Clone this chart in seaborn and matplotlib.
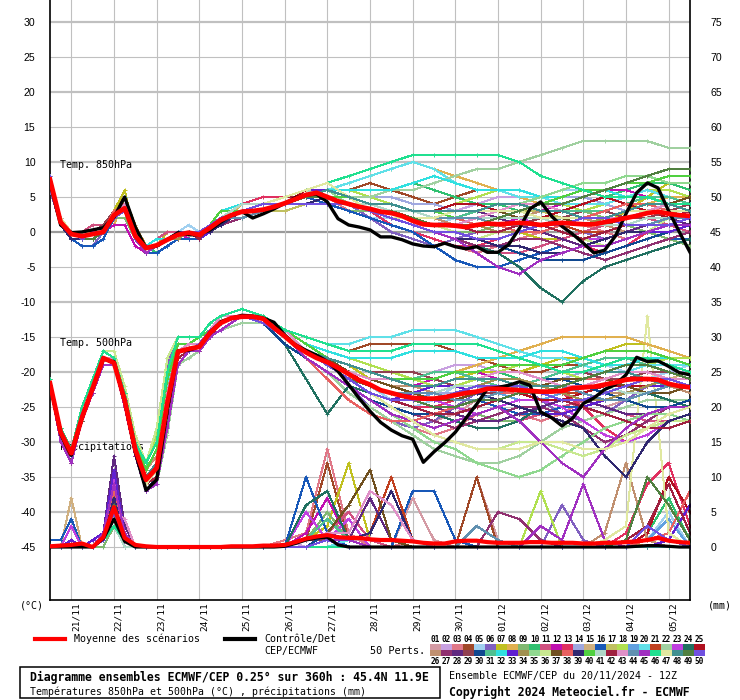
import sys
import numpy as np
import pandas as pd
import matplotlib
matplotlib.use("Agg")
import matplotlib.pyplot as plt
from matplotlib.lines import Line2D
from matplotlib.patches import Rectangle
import seaborn as sns

# ------------------------------------------------------------------ data
H6 = list(range(0, 361, 6))                                  # 20/11 12Z + h
H_MEMBERS = list(range(0, 97, 6)) + list(range(108, 361, 12))
DAY_HOURS = list(range(12, 349, 24))
DAY_LABELS = ["21/11", "22/11", "23/11", "24/11", "25/11", "26/11", "27/11", "28/11",
              "29/11", "30/11", "01/12", "02/12", "03/12", "04/12", "05/12"]
T_TICKS = list(range(-45, 31, 5))
MM_TICKS = list(range(0, 76, 5))
MM_AT_ZERO_C = 45          # right axis: 0 mm sits at -45 degC
T_LIMITS = (-52.57, 33.14)

T850_MEAN = [7.5, 1.4, -0.3, -0.6, -0.3, 0.0, 2.4, 3.4, -0.6, -2.3,
             -1.9, -1.1, -0.4, -0.1, -0.4, 0.6, 1.7, 2.4, 2.9, 3.0,
             3.2, 3.6, 4.1, 4.7, 5.3, 5.6, 5.0, 4.4, 4.0, 3.6,
             3.3, 2.9, 2.7, 2.3, 1.6, 1.1, 1.0, 1.0, 0.9, 0.7,
             1.0, 1.2, 1.1, 1.2, 1.3, 1.2, 1.0, 1.2, 1.3, 1.2,
             1.1, 1.1, 1.4, 1.7, 2.0, 2.3, 2.7, 2.9, 2.6, 2.4,
             2.3]
T850_CTRL = [7.0, 1.0, -0.1, 0.0, 0.3, 0.6, 2.1, 5.0, 0.7, -2.3,
             -2.0, -1.1, -0.1, -0.4, -0.4, 0.3, 1.4, 2.4, 2.9, 2.0,
             2.6, 3.3, 4.1, 4.9, 5.3, 5.4, 4.3, 1.9, 1.0, 0.7,
             0.3, -0.7, -0.7, -1.1, -1.7, -2.0, -2.1, -1.6, -2.1, -2.4,
             -2.1, -2.9, -2.9, -1.8, 0.5, 3.3, 4.3, 2.3, 0.8, -0.3,
             -1.6, -3.0, -2.6, -0.6, 2.6, 5.6, 7.0, 6.3, 3.0, 0.0,
             -2.9]
T500_MEAN = [-21.6, -28.6, -31.6, -26.5, -22.3, -18.0, -18.7, -24.0, -31.1, -35.4,
             -33.7, -24.4, -17.1, -16.7, -16.4, -14.4, -13.0, -12.3, -12.1, -12.1,
             -12.4, -13.7, -14.9, -16.2, -17.2, -18.0, -18.6, -19.4, -20.3, -21.2,
             -21.8, -22.6, -23.0, -23.4, -23.7, -23.8, -23.8, -23.6, -23.3, -23.0,
             -22.8, -22.4, -22.4, -22.5, -22.6, -22.7, -22.8, -22.8, -22.7, -22.3,
             -22.2, -22.1, -21.8, -21.5, -21.1, -21.0, -21.0, -21.1, -21.7, -22.0,
             -22.2]
T500_CTRL = [-21.6, -28.9, -31.9, -26.5, -22.3, -18.2, -18.5, -24.2, -31.5, -36.9,
             -35.4, -25.4, -17.0, -16.9, -16.4, -14.4, -12.8, -12.3, -11.9, -12.0,
             -12.3, -12.9, -14.7, -16.1, -16.9, -17.6, -18.5, -19.9, -21.8, -23.8,
             -25.6, -27.2, -28.3, -29.1, -29.6, -32.9, -31.4, -30.1, -28.6, -26.6,
             -24.6, -22.4, -22.2, -21.9, -21.4, -21.9, -25.7, -26.5, -27.7, -26.6,
             -24.5, -23.7, -22.5, -21.8, -20.4, -17.9, -18.5, -18.4, -19.2, -20.1,
             -20.4]
RR_MEAN = [0.1, 0.2, 0.3, 0.5, 0.0, 1.4, 5.7, 1.3, 0.3, 0.1,
           0.0, 0.0, 0.0, 0.0, 0.0, 0.0, 0.0, 0.1, 0.1, 0.1,
           0.2, 0.2, 0.3, 0.7, 1.2, 1.5, 1.7, 1.4, 1.3, 1.3,
           1.1, 1.0, 1.0, 0.9, 0.8, 0.6, 0.5, 0.5, 0.8, 0.9,
           0.9, 0.7, 0.6, 0.6, 0.6, 0.7, 0.7, 0.6, 0.6, 0.6,
           0.5, 0.5, 0.6, 0.6, 0.7, 0.8, 1.0, 1.3, 0.9, 0.7,
           0.6]
RR_CTRL = [0.0, 0.0, 0.0, 0.0, 0.0, 1.2, 4.0, 0.8, 0.0, 0.0,
           0.0, 0.0, 0.0, 0.0, 0.0, 0.0, 0.0, 0.0, 0.0, 0.0,
           0.0, 0.0, 0.1, 0.5, 1.0, 1.3, 1.4, 0.3, 0.0, 0.0,
           0.0, 0.0, 0.0, 0.0, 0.0, 0.0, 0.0, 0.0, 0.0, 0.0,
           0.0, 0.0, 0.0, 0.0, 0.0, 0.0, 0.0, 0.0, 0.0, 0.0,
           0.0, 0.0, 0.0, 0.0, 0.0, 0.1, 0.2, 0.2, 0.1, 0.0,
           0.0]

MEMBER_IDS = ["%02d" % i for i in range(1, 51)]
MEMBER_COLORS = ["#d49aa4", "#c8a0e0", "#e07888", "#a04828", "#a0d0f0", "#8060c0", "#c0c020",
                 "#e0b050", "#80b870", "#30c070", "#d05080", "#c010b0", "#e03060", "#a0a8e0",
                 "#d0b080", "#1858b8", "#c0c060", "#b0e050", "#60a0e0", "#60e0e8", "#c04020",
                 "#a0d0a0", "#c040e0", "#207060", "#b01020",
                 "#c09070", "#903070", "#602880", "#904050", "#104890", "#50c090", "#30e0e0",
                 "#6020d0", "#a09050", "#90d890", "#c8e890", "#705020", "#e86060", "#302870",
                 "#50d040", "#b0d8c8", "#a02040", "#e090c8", "#6090b0", "#a030c0", "#20e090",
                 "#e0e8a0", "#409090", "#508040", "#7050e0"]

# members: values at H_MEMBERS (17 six-hourly + 22 twelve-hourly)
M850 = [
 [7,1,0,-1,0,0,2,3,-1,-2,-2,-1,0,0,0,1,2, 3,4,5,6,6,5,4,3,2,1,0,-1,-1,0,1,2,3,2,1,2,3,3],
 [8,2,0,0,0,0,3,4,0,-3,-2,-1,0,0,-1,0,2, 3,3,4,5,5,4,4,3,3,2,3,4,5,5,4,3,3,4,5,6,5,4],
 [7,1,-1,-1,-1,0,2,3,0,-2,-2,-1,-1,0,0,1,1, 4,4,5,6,5,3,2,1,0,-1,-2,-3,-2,-1,0,1,1,0,-1,0,1,2],
 [8,1,0,-1,0,1,3,5,0,-3,-2,-1,0,0,0,1,2, 3,4,4,5,6,6,7,6,5,4,5,6,6,5,4,3,2,2,3,4,4,3],
 [7,2,0,0,0,0,2,3,-1,-2,-1,-1,0,1,0,1,2, 3,3,4,5,4,3,2,2,1,1,2,2,3,4,5,6,6,5,4,3,2,1],
 [6,1,-1,-2,-2,0,2,2,0,-3,-3,-2,-1,-1,-1,0,1, 2,3,4,5,5,4,2,0,-1,-2,-1,0,1,2,2,1,0,-1,0,1,2,3],
 [8,1,0,0,0,1,3,6,-1,-2,-2,0,0,0,0,1,3, 3,4,4,5,5,5,4,4,3,3,2,2,1,0,-1,-1,0,1,3,5,7,6],
 [7,1,0,-1,-1,0,1,5,1,-2,-2,-1,0,0,-1,0,1, 4,4,5,5,6,7,8,9,10,9,8,7,6,5,4,3,2,2,3,4,5,5],
 [8,2,0,0,0,0,2,2,-1,-3,-2,-1,-1,0,-1,1,2, 2,3,4,4,4,3,3,2,2,1,0,0,1,2,3,4,3,2,1,0,-1,-2],
 [7,1,-1,-1,0,0,2,3,-1,-2,-3,-2,-1,0,0,1,2, 3,4,5,6,6,5,5,6,7,6,5,4,4,3,3,3,4,5,6,7,7,6],
 [7,2,0,0,1,1,3,4,0,-2,-1,0,0,0,0,1,3, 3,3,3,4,4,4,3,2,1,0,-1,-2,-3,-3,-2,-1,0,1,2,2,1,0],
 [7,1,0,-1,0,0,1,1,-2,-3,-2,-1,0,-1,-1,0,1, 3,4,4,5,5,4,4,4,3,2,2,1,1,2,3,4,5,6,6,5,4,3],
 [8,1,0,0,0,0,2,3,-1,-2,-2,-1,0,0,0,1,2, 4,5,5,6,6,4,3,1,0,-1,-2,-2,-1,0,0,-1,-2,-3,-2,0,1,1],
 [7,1,0,-1,0,0,3,4,0,-2,-2,-1,-1,0,0,1,2, 3,3,4,5,6,6,5,5,4,4,3,3,4,4,5,5,5,4,3,3,3,2],
 [8,2,0,0,0,1,3,4,-1,-3,-2,-1,0,0,-1,0,2, 4,4,5,6,6,6,5,4,3,2,1,1,0,0,1,2,2,3,4,4,3,3],
 [7,1,-1,-2,-2,-1,2,3,-1,-3,-3,-2,-1,-1,-1,0,1, 3,4,4,5,4,3,2,1,0,-2,-4,-5,-5,-4,-3,-2,-3,-4,-3,-2,-1,-1],
 [7,1,0,-1,0,0,2,3,0,-2,-2,-1,0,0,0,1,2, 2,3,3,4,5,4,4,3,3,2,2,2,2,3,3,2,2,1,1,2,3,4],
 [8,1,0,0,0,0,3,4,-1,-2,-2,-1,0,0,0,1,3, 3,4,5,5,6,6,5,4,3,3,4,5,6,6,5,4,3,4,5,6,6,5],
 [7,2,0,-1,0,0,2,3,-1,-2,-2,-1,0,0,0,1,2, 3,3,4,4,5,4,3,3,2,1,1,0,0,1,2,2,1,1,2,3,4,4],
 [7,1,0,0,0,0,2,5,0,-2,-2,-1,0,0,0,1,2, 4,4,5,6,6,7,8,9,10,9,7,6,6,5,5,4,4,4,5,6,5,4],
 [8,1,0,-1,0,0,2,3,-1,-3,-2,-1,-1,0,0,1,2, 3,3,4,4,4,4,3,2,2,1,1,1,2,3,2,1,0,0,1,2,3,3],
 [7,1,0,-1,-1,0,2,3,0,-2,-2,-1,0,0,0,0,1, 3,4,4,5,5,5,5,6,6,7,8,9,9,10,11,12,13,13,13,13,12,12],
 [8,2,0,0,0,0,2,4,-1,-2,-2,-1,0,0,0,1,2, 4,4,5,6,6,4,4,3,2,2,2,3,3,2,1,0,-1,-1,0,1,2,2],
 [7,1,0,-1,0,0,2,3,-1,-3,-2,-1,0,0,-1,0,2, 3,4,4,5,5,4,3,2,1,0,-1,-2,-3,-5,-8,-10,-7,-5,-4,-3,-2,-1],
 [7,1,0,0,0,0,3,4,0,-2,-2,-1,0,0,0,1,2, 3,4,4,6,6,5,4,3,3,3,4,4,3,2,2,3,4,5,4,3,2,2],
 [8,1,0,-1,0,0,2,3,-1,-2,-2,-1,0,0,0,1,2, 3,3,4,5,5,4,3,2,2,2,1,1,2,2,3,3,2,1,0,1,2,3],
 [7,1,-1,-1,0,0,2,3,-1,-2,-2,-1,0,0,0,0,1, 2,3,4,4,4,4,3,2,1,0,-1,-2,-2,-1,-1,-2,-3,-4,-3,-2,-1,0],
 [7,2,0,0,0,0,2,3,0,-2,-2,-1,0,0,0,1,2, 3,4,5,5,5,4,3,3,2,2,3,3,2,1,0,-1,-2,-1,0,1,2,1],
 [8,1,0,-1,0,1,3,4,-1,-3,-2,-1,0,0,0,1,2, 3,4,4,5,6,5,4,4,3,3,2,1,1,1,2,2,3,3,2,2,3,4],
 [7,1,-1,-1,-1,0,2,3,-1,-2,-2,-1,0,0,0,1,2, 3,4,4,5,5,4,3,3,2,1,0,-1,-2,-3,-4,-4,-4,-3,-2,-1,0,1],
 [7,1,0,-1,0,0,2,4,0,-2,-2,-1,0,0,0,1,2, 3,4,4,5,5,5,4,3,3,2,2,3,4,4,3,3,3,3,4,5,5,4],
 [8,2,0,0,0,0,2,4,0,-2,-1,-1,0,0,0,1,3, 4,4,5,5,6,6,6,6,7,8,7,6,6,6,5,5,6,6,5,5,4,4],
 [7,1,0,-1,0,0,2,3,-1,-2,-2,-1,0,0,-1,0,1, 3,4,5,6,6,4,3,2,1,0,-1,-1,0,1,1,0,-1,-2,-1,0,0,1],
 [7,1,0,-1,0,0,2,3,-1,-2,-2,-1,-1,0,0,1,2, 3,3,4,5,5,4,3,2,2,1,1,1,0,0,1,1,1,2,3,3,3,2],
 [8,1,0,0,0,0,3,3,-1,-2,-2,-1,0,0,0,1,2, 2,3,4,5,6,4,3,3,3,2,2,2,3,4,5,6,7,7,8,8,7,7],
 [7,1,0,-1,0,0,2,4,0,-3,-2,-1,0,0,0,1,2, 3,4,5,5,5,5,4,3,2,1,0,-1,0,1,1,0,-1,-2,-1,0,2,3],
 [7,2,0,0,0,0,2,3,-1,-2,-2,-1,0,0,0,1,2, 3,4,4,5,5,4,4,3,3,3,3,3,3,2,2,2,1,1,2,3,4,5],
 [8,1,0,-1,0,0,3,4,-1,-2,-2,-1,0,0,0,1,2, 3,4,4,5,5,4,3,3,2,2,2,1,1,0,0,1,2,3,4,4,3,3],
 [7,1,-1,-1,0,0,2,3,-1,-3,-2,-1,0,0,0,0,1, 3,3,4,4,5,4,3,2,1,0,-1,-1,-2,-2,-3,-3,-2,-1,0,0,1,1],
 [7,1,0,0,0,0,2,3,0,-2,-2,-1,0,0,0,1,3, 3,4,4,5,5,5,4,3,3,3,2,2,2,3,4,5,6,6,7,7,8,8],
 [8,1,0,-1,0,0,2,3,-1,-2,-2,-1,0,0,0,1,2, 4,4,5,6,5,4,4,3,3,2,2,2,2,2,2,1,1,1,1,2,2,2],
 [7,1,0,-1,0,0,2,3,-1,-2,-2,-1,0,0,-1,1,2, 3,4,5,5,5,4,3,3,2,1,1,0,0,1,1,0,-1,0,1,1,2,3],
 [7,2,0,0,0,0,2,4,0,-2,-2,-1,0,0,0,1,2, 3,4,4,5,5,4,3,2,1,1,1,2,3,4,4,3,2,2,2,3,4,4],
 [8,1,0,-1,0,0,2,3,-1,-2,-2,-1,0,0,0,1,2, 2,3,4,4,4,4,3,2,2,2,2,2,1,1,1,2,2,2,1,1,2,2],
 [7,1,0,-1,0,0,2,3,-1,-3,-2,-1,0,0,0,1,2, 3,4,4,5,5,4,3,2,1,0,-1,-3,-5,-6,-4,-3,-2,-2,-1,0,1,1],
 [7,1,0,-1,0,0,2,3,0,-2,-2,-1,0,0,0,1,2, 3,4,5,6,7,8,9,10,11,11,11,11,11,10,8,7,6,5,5,5,4,4],
 [8,2,0,0,0,0,2,3,-1,-2,-2,-1,0,0,0,1,2, 3,4,5,6,7,5,3,2,2,2,3,3,3,3,2,2,2,2,3,3,3,3],
 [7,1,0,-1,0,0,2,3,-1,-2,-2,-1,0,0,0,1,2, 3,3,4,5,6,5,4,4,3,3,3,3,4,4,3,3,2,2,3,4,4,3],
 [7,1,0,-1,-1,0,2,3,-1,-2,-2,-1,0,0,0,1,2, 3,4,4,5,5,4,3,3,2,1,1,1,2,3,4,4,5,6,7,8,9,9],
 [8,1,0,-1,0,0,2,3,-1,-2,-2,-1,0,0,0,1,2, 3,4,4,4,4,4,3,2,1,0,0,-1,-1,0,1,1,2,2,1,1,1,2],
]

M500 = [
 [-22,-29,-32,-26,-22,-18,-19,-24,-31,-35,-34,-24,-17,-17,-16,-14,-13, -12,-12,-15,-17,-19,-21,-23,-25,-26,-27,-26,-24,-23,-22,-22,-23,-24,-25,-24,-22,-21,-21],
 [-21,-28,-31,-26,-22,-18,-18,-23,-30,-34,-31,-21,-16,-16,-16,-14,-13, -12,-13,-14,-16,-18,-19,-20,-21,-21,-20,-19,-19,-20,-21,-22,-22,-21,-20,-19,-19,-20,-21],
 [-22,-29,-33,-27,-23,-19,-19,-25,-32,-36,-35,-27,-18,-17,-17,-15,-13, -12,-13,-15,-18,-20,-22,-24,-26,-28,-29,-28,-26,-25,-26,-27,-26,-24,-23,-22,-23,-24,-25],
 [-21,-29,-32,-26,-22,-17,-18,-24,-31,-35,-33,-24,-17,-16,-16,-14,-12, -12,-12,-14,-15,-16,-17,-16,-16,-16,-16,-17,-18,-19,-20,-20,-19,-19,-18,-18,-18,-19,-20],
 [-22,-30,-33,-27,-22,-18,-19,-24,-32,-37,-36,-28,-19,-17,-17,-15,-14, -12,-13,-15,-17,-19,-20,-22,-24,-25,-24,-22,-21,-20,-19,-19,-18,-18,-19,-20,-21,-20,-19],
 [-21,-28,-31,-25,-21,-17,-18,-23,-30,-33,-29,-19,-15,-15,-15,-13,-12, -12,-13,-16,-18,-20,-22,-25,-27,-28,-27,-25,-23,-22,-22,-24,-26,-27,-26,-24,-22,-21,-20],
 [-22,-29,-32,-26,-22,-18,-19,-24,-31,-36,-34,-25,-17,-17,-16,-14,-13, -12,-12,-14,-17,-18,-19,-21,-22,-23,-22,-21,-20,-20,-20,-19,-18,-18,-17,-16,-16,-17,-18],
 [-21,-29,-32,-26,-22,-18,-18,-24,-31,-35,-33,-23,-17,-16,-16,-14,-13, -12,-12,-14,-16,-17,-18,-19,-20,-21,-21,-20,-19,-18,-17,-16,-15,-15,-15,-15,-16,-17,-18],
 [-22,-29,-32,-27,-22,-18,-19,-25,-32,-36,-34,-26,-18,-17,-17,-15,-13, -12,-13,-15,-17,-19,-21,-22,-23,-23,-24,-25,-26,-27,-27,-26,-25,-24,-24,-23,-22,-22,-23],
 [-22,-28,-31,-26,-22,-18,-19,-24,-31,-35,-33,-24,-17,-17,-16,-14,-13, -12,-13,-15,-17,-18,-19,-20,-21,-21,-22,-22,-21,-20,-21,-22,-23,-23,-22,-21,-20,-20,-21],
 [-22,-29,-32,-26,-22,-18,-19,-24,-31,-35,-34,-25,-17,-17,-16,-14,-13, -12,-13,-15,-18,-20,-22,-24,-25,-26,-26,-27,-28,-28,-27,-26,-25,-24,-25,-26,-27,-27,-26],
 [-21,-29,-32,-26,-22,-18,-18,-24,-31,-34,-32,-22,-16,-16,-16,-14,-12, -12,-12,-15,-17,-18,-20,-21,-22,-22,-21,-20,-20,-21,-22,-23,-24,-24,-23,-22,-21,-21,-22],
 [-22,-30,-33,-27,-23,-19,-19,-25,-32,-36,-35,-27,-18,-17,-17,-15,-13, -12,-13,-16,-18,-20,-22,-23,-24,-25,-25,-24,-23,-23,-22,-22,-23,-25,-28,-30,-28,-26,-25],
 [-22,-29,-32,-26,-22,-18,-19,-24,-31,-35,-33,-24,-17,-17,-16,-14,-13, -12,-13,-15,-17,-19,-20,-21,-22,-22,-23,-23,-22,-22,-22,-21,-21,-20,-20,-19,-19,-20,-20],
 [-21,-28,-31,-26,-22,-17,-18,-23,-30,-34,-31,-20,-16,-16,-15,-14,-12, -11,-12,-14,-16,-18,-19,-20,-21,-22,-22,-21,-21,-22,-22,-21,-20,-20,-21,-22,-22,-21,-20],
 [-22,-29,-32,-26,-22,-18,-19,-24,-31,-36,-35,-26,-18,-17,-17,-15,-14, -13,-13,-15,-18,-20,-22,-24,-26,-27,-26,-25,-24,-25,-26,-26,-25,-25,-24,-24,-25,-25,-24],
 [-22,-29,-32,-26,-22,-18,-19,-24,-31,-35,-34,-24,-17,-17,-16,-14,-13, -12,-13,-15,-17,-19,-21,-22,-23,-24,-24,-23,-22,-22,-23,-23,-22,-21,-21,-22,-23,-24,-24],
 [-21,-28,-31,-25,-21,-17,-18,-23,-30,-33,-29,-18,-15,-15,-15,-13,-12, -12,-12,-14,-16,-17,-18,-19,-20,-21,-22,-22,-21,-20,-19,-19,-20,-21,-21,-20,-19,-18,-18],
 [-22,-29,-32,-26,-22,-18,-19,-24,-31,-35,-34,-25,-17,-17,-16,-14,-13, -12,-13,-15,-17,-19,-21,-23,-24,-24,-23,-22,-22,-23,-24,-24,-23,-22,-22,-21,-21,-21,-22],
 [-21,-29,-32,-26,-22,-17,-18,-23,-30,-34,-32,-22,-16,-16,-15,-14,-12, -11,-12,-14,-15,-16,-16,-15,-15,-14,-14,-14,-15,-16,-17,-18,-18,-19,-20,-20,-19,-19,-19],
 [-22,-29,-32,-27,-22,-18,-19,-24,-32,-36,-34,-25,-17,-17,-16,-14,-13, -12,-13,-15,-17,-19,-21,-23,-25,-26,-26,-25,-24,-23,-22,-22,-23,-23,-22,-21,-20,-20,-21],
 [-22,-30,-33,-27,-23,-19,-19,-25,-32,-37,-36,-29,-19,-18,-17,-15,-14, -13,-13,-15,-18,-20,-23,-25,-27,-29,-31,-32,-33,-33,-32,-30,-28,-27,-26,-25,-24,-24,-24],
 [-22,-29,-32,-26,-22,-18,-19,-24,-31,-35,-34,-24,-17,-17,-16,-14,-13, -12,-13,-15,-17,-19,-21,-22,-23,-24,-24,-25,-26,-25,-24,-24,-25,-27,-29,-30,-29,-27,-26],
 [-22,-29,-33,-27,-23,-19,-19,-25,-32,-36,-35,-27,-18,-17,-17,-15,-13, -12,-13,-16,-21,-26,-22,-23,-24,-25,-26,-27,-28,-28,-27,-25,-24,-23,-22,-22,-23,-24,-25],
 [-22,-29,-32,-26,-22,-18,-19,-24,-31,-35,-33,-24,-17,-17,-16,-14,-13, -12,-13,-15,-17,-19,-20,-22,-23,-23,-22,-21,-21,-22,-23,-24,-24,-23,-22,-22,-22,-21,-21],
 [-21,-28,-31,-26,-22,-18,-18,-23,-30,-34,-32,-23,-16,-16,-16,-14,-13, -12,-12,-14,-17,-19,-20,-21,-22,-22,-23,-24,-24,-23,-22,-21,-21,-22,-23,-23,-22,-22,-23],
 [-22,-29,-32,-26,-22,-18,-19,-24,-31,-36,-34,-25,-17,-17,-16,-14,-13, -12,-13,-15,-18,-20,-22,-24,-25,-26,-27,-28,-27,-26,-25,-25,-26,-28,-30,-29,-27,-25,-24],
 [-22,-29,-32,-27,-22,-18,-19,-24,-31,-35,-34,-25,-17,-17,-16,-14,-13, -12,-13,-15,-17,-19,-21,-23,-24,-24,-25,-26,-27,-27,-26,-25,-24,-24,-25,-26,-26,-25,-24],
 [-21,-29,-32,-26,-22,-18,-18,-24,-31,-35,-33,-23,-17,-16,-16,-14,-12, -12,-12,-15,-17,-18,-19,-20,-20,-20,-21,-22,-23,-23,-22,-21,-20,-20,-21,-21,-20,-20,-21],
 [-22,-30,-33,-27,-23,-19,-19,-25,-32,-37,-35,-26,-18,-17,-17,-15,-13, -12,-13,-16,-18,-20,-22,-24,-25,-26,-26,-25,-24,-23,-22,-21,-21,-22,-23,-24,-25,-25,-24],
 [-22,-29,-32,-26,-22,-18,-19,-24,-31,-35,-34,-24,-17,-17,-16,-14,-13, -12,-12,-14,-16,-18,-19,-20,-21,-21,-20,-20,-21,-22,-22,-21,-20,-19,-18,-18,-19,-20,-21],
 [-21,-28,-31,-25,-21,-17,-18,-23,-30,-33,-30,-20,-15,-15,-15,-13,-12, -12,-12,-14,-16,-17,-18,-18,-18,-17,-17,-17,-18,-18,-18,-17,-17,-18,-19,-19,-18,-18,-19],
 [-22,-29,-32,-26,-22,-18,-19,-24,-31,-35,-34,-25,-17,-17,-16,-14,-13, -12,-13,-15,-17,-19,-21,-23,-24,-23,-22,-22,-23,-24,-25,-26,-26,-25,-24,-23,-22,-22,-22],
 [-22,-29,-32,-26,-22,-18,-19,-24,-31,-35,-33,-24,-17,-17,-16,-14,-13, -12,-13,-15,-17,-19,-20,-21,-22,-23,-23,-22,-22,-21,-21,-22,-23,-24,-24,-23,-22,-21,-21],
 [-22,-30,-33,-27,-23,-19,-19,-25,-32,-36,-35,-27,-18,-17,-17,-15,-13, -12,-13,-15,-18,-20,-22,-24,-26,-28,-30,-31,-33,-34,-35,-34,-32,-30,-28,-27,-26,-26,-27],
 [-21,-28,-31,-25,-21,-17,-17,-22,-29,-33,-28,-18,-15,-15,-15,-13,-12, -12,-13,-15,-17,-19,-21,-23,-25,-27,-29,-30,-31,-31,-30,-30,-31,-32,-31,-29,-28,-27,-27],
 [-22,-29,-32,-26,-22,-18,-19,-24,-31,-35,-34,-24,-17,-17,-16,-14,-13, -12,-13,-15,-17,-18,-20,-21,-22,-23,-24,-24,-23,-22,-22,-22,-21,-21,-21,-22,-23,-23,-22],
 [-22,-29,-32,-26,-22,-18,-19,-25,-32,-36,-34,-26,-18,-17,-16,-14,-13, -12,-13,-15,-18,-21,-24,-26,-27,-27,-26,-25,-24,-23,-23,-23,-22,-21,-21,-20,-20,-21,-22],
 [-22,-29,-32,-26,-22,-18,-19,-24,-31,-35,-34,-25,-17,-17,-16,-14,-13, -12,-13,-15,-17,-19,-21,-22,-23,-24,-24,-23,-23,-24,-25,-26,-27,-28,-32,-35,-30,-27,-26],
 [-21,-28,-31,-26,-22,-18,-18,-23,-30,-34,-31,-21,-16,-16,-15,-14,-12, -12,-12,-14,-16,-18,-19,-20,-21,-21,-21,-20,-20,-19,-19,-19,-19,-18,-17,-17,-17,-18,-19],
 [-22,-29,-32,-26,-22,-18,-19,-24,-31,-35,-34,-24,-17,-17,-16,-14,-13, -12,-13,-15,-17,-19,-21,-22,-23,-23,-23,-22,-22,-22,-23,-23,-22,-22,-22,-23,-23,-22,-22],
 [-22,-29,-33,-27,-22,-18,-19,-25,-32,-36,-35,-26,-18,-17,-17,-15,-13, -12,-13,-15,-17,-19,-21,-23,-24,-25,-26,-26,-25,-24,-23,-23,-24,-25,-26,-27,-28,-28,-27],
 [-21,-29,-32,-26,-22,-18,-18,-24,-31,-35,-33,-23,-17,-16,-16,-14,-12, -12,-12,-14,-17,-19,-20,-21,-21,-22,-22,-21,-21,-20,-20,-21,-22,-22,-21,-20,-20,-21,-21],
 [-22,-29,-32,-26,-22,-18,-19,-24,-31,-35,-34,-25,-17,-17,-16,-14,-13, -12,-13,-15,-17,-19,-21,-22,-23,-23,-23,-24,-24,-23,-22,-22,-22,-23,-24,-24,-23,-22,-22],
 [-22,-30,-33,-27,-23,-19,-19,-25,-32,-37,-36,-28,-19,-17,-17,-15,-14, -12,-13,-15,-18,-20,-22,-24,-26,-27,-28,-27,-26,-25,-27,-30,-33,-35,-31,-28,-26,-25,-25],
 [-21,-28,-31,-25,-21,-17,-18,-23,-30,-33,-30,-20,-15,-15,-15,-13,-12, -11,-12,-14,-15,-16,-17,-17,-17,-16,-16,-16,-16,-17,-18,-19,-20,-20,-19,-18,-18,-19,-20],
 [-22,-29,-32,-26,-22,-18,-19,-24,-31,-36,-34,-25,-17,-17,-16,-14,-13, -12,-13,-15,-17,-19,-21,-23,-25,-27,-29,-30,-31,-31,-31,-30,-30,-31,-31,-30,-28,-26,-25],
 [-22,-29,-32,-26,-22,-18,-19,-24,-31,-35,-33,-24,-17,-17,-16,-14,-13, -12,-13,-15,-17,-18,-19,-20,-21,-22,-22,-21,-21,-21,-22,-22,-22,-21,-20,-20,-21,-22,-22],
 [-22,-29,-32,-27,-22,-18,-19,-24,-31,-35,-34,-25,-17,-17,-16,-14,-13, -12,-13,-15,-17,-19,-21,-22,-23,-24,-25,-25,-24,-24,-23,-23,-22,-21,-20,-19,-19,-20,-21],
 [-22,-29,-32,-26,-22,-18,-19,-24,-31,-35,-34,-24,-17,-17,-16,-14,-13, -12,-13,-15,-17,-19,-21,-23,-24,-24,-24,-23,-22,-22,-22,-23,-24,-24,-23,-22,-21,-21,-22],
]

MRR = [
 [0,0,0,0,0,1,6,1,0,0,0,0,0,0,0,0,0, 0,0,0,1,2,1,1,0,7,1,0,10,1,0,0,0,0,0,0,0,1,0],
 [0,0,1,0,0,1,5,1,0,0,0,0,0,0,0,0,0, 0,0,1,0,0,0,0,0,0,0,0,0,0,0,0,0,0,1,0,0,0,0],
 [0,0,0,0,0,2,4,0,0,0,0,0,0,0,0,0,0, 0,0,1,2,14,2,0,0,1,0,0,0,0,0,0,0,0,0,0,0,0,0],
 [0,0,1,0,0,1,7,2,0,0,0,0,0,0,0,0,0, 0,0,0,1,12,1,0,0,0,0,0,10,0,0,0,0,0,0,0,0,0,0],
 [0,0,0,0,0,1,5,1,0,0,0,0,0,0,0,0,0, 0,0,0,0,1,1,0,0,0,0,0,0,0,0,0,0,0,0,0,1,5,0],
 [0,0,0,0,0,1,6,0,0,0,0,0,0,0,0,0,0, 0,0,0,0,2,0,0,0,0,0,0,0,0,0,0,6,1,0,0,0,0,0],
 [0,0,1,0,1,2,4,1,0,0,0,0,0,0,0,0,0, 0,0,0,1,3,12,1,0,0,0,0,0,0,0,0,0,0,0,0,0,0,0],
 [0,0,0,0,0,1,5,1,0,0,0,0,0,0,0,0,0, 0,0,0,0,1,0,0,0,0,0,0,0,0,0,0,0,0,0,1,0,0,0],
 [0,0,0,0,0,0,3,1,0,0,0,0,0,0,0,0,0, 0,0,0,1,5,1,0,0,0,0,0,0,0,0,0,0,0,0,0,0,0,0],
 [0,0,0,0,0,1,6,1,0,0,0,0,0,0,0,0,0, 0,0,0,0,1,0,0,0,0,0,0,0,0,0,0,0,0,0,0,2,7,1],
 [0,0,0,0,0,1,5,1,0,0,0,0,0,0,0,0,0, 0,0,0,1,2,5,1,0,0,0,0,0,0,0,0,0,0,0,0,0,0,0],
 [0,0,1,0,0,2,7,2,0,0,0,0,0,0,0,0,0, 0,0,0,2,7,1,0,0,0,0,0,0,0,0,0,0,0,0,0,0,0,0],
 [0,0,0,0,0,1,4,1,0,0,0,0,0,0,0,0,0, 0,0,0,0,1,0,0,0,0,0,0,0,0,0,0,0,0,0,2,9,12,3],
 [0,0,0,0,0,1,6,1,0,0,0,0,0,0,0,0,0, 0,0,0,1,1,0,0,0,0,0,0,0,0,0,0,0,0,0,0,0,0,0],
 [0,0,7,0,0,2,9,2,0,0,0,0,0,0,0,0,0, 0,0,0,1,2,1,0,0,0,0,0,0,0,0,0,0,0,0,0,0,0,0],
 [1,1,4,0,0,1,5,1,0,0,0,0,0,0,0,0,0, 0,0,0,10,2,0,0,0,8,8,1,0,0,0,0,0,0,0,0,0,0,0],
 [0,0,0,0,0,1,4,1,0,0,0,0,0,0,0,0,0, 0,0,0,0,1,1,0,0,0,0,0,0,0,0,0,0,0,0,0,0,0,0],
 [0,0,0,0,0,1,3,1,0,0,0,0,0,0,0,0,0, 0,0,0,0,1,0,0,0,0,0,0,0,0,0,8,0,0,0,0,0,0,0],
 [0,0,0,0,0,1,6,1,0,0,0,0,0,0,0,0,0, 0,0,0,0,1,0,0,0,0,0,0,0,0,0,0,0,0,0,0,1,4,0],
 [0,0,0,0,0,1,5,1,0,0,0,0,0,0,0,0,0, 0,0,0,0,0,1,0,0,0,0,0,0,0,0,0,0,0,0,0,0,0,0],
 [0,0,1,0,0,2,8,1,0,0,0,0,0,0,0,0,0, 0,0,0,1,2,1,2,10,1,0,0,0,0,0,0,0,0,0,0,0,0,0],
 [0,0,0,0,0,1,4,1,0,0,0,0,0,0,0,0,0, 0,0,0,0,1,0,0,0,0,0,0,0,0,0,0,0,0,0,0,0,0,0],
 [0,0,3,0,0,2,10,2,0,0,0,0,0,0,0,0,0, 0,0,0,5,1,4,0,0,0,0,0,0,0,0,0,0,0,0,0,0,0,0],
 [0,0,0,0,0,1,3,1,0,0,0,0,0,0,0,0,0, 0,0,0,6,8,1,0,0,0,0,0,0,0,0,0,0,0,0,0,0,0,0],
 [0,0,0,0,0,1,6,1,0,0,0,0,0,0,0,0,0, 0,0,0,0,1,0,0,0,0,0,0,0,0,0,0,0,0,0,0,2,10,5],
 [0,0,1,0,0,1,5,1,0,0,0,0,0,0,0,0,0, 0,0,0,0,1,0,0,0,0,0,0,0,0,0,0,0,0,2,12,1,0,0],
 [0,0,0,0,0,2,9,2,0,0,0,0,0,0,0,0,0, 0,0,0,0,1,1,0,0,0,0,0,0,5,4,1,0,0,0,0,0,0,0],
 [0,0,0,0,1,2,13,3,0,0,0,0,0,0,0,0,0, 0,0,0,0,2,1,7,1,0,0,0,0,0,0,0,0,0,0,0,0,0,0],
 [0,0,0,0,0,1,7,1,0,0,0,0,0,0,0,0,0, 0,0,0,1,1,0,0,0,0,0,0,0,0,0,0,0,0,0,0,0,0,0],
 [0,0,0,0,0,1,4,1,0,0,0,0,0,0,0,0,0, 0,0,0,0,2,1,0,0,0,0,0,0,0,0,0,0,0,0,0,0,0,0],
 [0,0,0,0,0,1,5,1,0,0,0,0,0,0,0,0,0, 0,0,0,1,4,1,0,0,0,0,0,0,0,0,0,0,0,0,0,0,0,0],
 [0,0,0,0,0,1,3,1,0,0,0,0,0,0,0,0,0, 0,0,0,0,1,0,0,0,0,0,0,0,0,0,0,0,0,0,0,0,0,0],
 [0,0,1,0,1,2,11,2,0,0,0,0,0,0,0,0,0, 0,0,0,1,2,1,0,0,0,0,0,0,0,0,0,0,0,0,0,0,1,6],
 [0,0,0,0,0,1,4,1,0,0,0,0,0,0,0,0,0, 0,0,0,0,1,1,0,0,0,0,0,0,0,0,0,0,0,0,0,0,0,0],
 [0,0,0,0,0,1,5,1,0,0,0,0,0,0,0,0,0, 0,0,0,0,1,0,0,0,0,0,0,0,0,0,0,0,0,0,0,0,0,0],
 [0,0,0,0,0,1,3,1,0,0,0,0,0,0,0,0,0, 0,0,0,0,0,0,0,0,0,0,0,0,0,0,0,0,0,0,0,0,0,0],
 [0,0,0,0,0,1,6,1,0,0,0,0,0,0,0,0,0, 0,0,0,1,2,6,11,1,0,0,0,0,0,0,0,0,0,0,0,0,0,0],
 [0,0,0,0,0,2,8,2,0,0,0,0,0,0,0,0,0, 0,0,0,0,1,0,0,0,0,0,0,0,0,0,0,0,0,0,0,1,2,8],
 [0,0,0,0,0,1,7,1,0,0,0,0,0,0,0,0,0, 0,0,0,0,1,1,2,8,1,0,0,0,0,0,0,0,0,0,0,0,0,0],
 [0,0,0,0,0,1,4,1,0,0,0,0,0,0,0,0,0, 0,0,0,0,1,0,0,0,0,0,0,0,0,0,0,0,0,0,0,0,0,0],
 [0,0,0,0,0,1,3,0,0,0,0,0,0,0,0,0,0, 0,0,0,0,0,0,0,0,0,0,0,0,0,0,0,0,0,0,0,0,0,0],
 [0,0,0,0,0,1,6,1,0,0,0,0,0,0,0,0,0, 0,0,0,0,1,0,0,0,0,0,0,0,0,0,0,0,0,0,1,3,9,2],
 [0,0,0,0,0,2,5,4,0,0,0,0,0,0,0,0,0, 0,0,0,1,2,2,8,6,1,0,0,0,0,0,0,0,0,0,0,0,0,0],
 [0,0,0,0,0,1,4,1,0,0,0,0,0,0,0,0,0, 0,0,0,0,1,0,0,0,0,0,0,3,1,0,0,0,0,0,0,0,0,0],
 [0,0,0,0,0,2,9,2,0,0,0,0,0,0,0,0,0, 0,0,0,0,1,1,0,0,0,0,0,0,0,0,3,1,9,1,0,0,0,0],
 [0,0,0,0,0,1,3,1,0,0,0,0,0,0,0,0,0, 0,0,0,0,0,0,0,0,0,0,0,0,0,0,0,0,0,0,0,0,0,0],
 [0,0,0,0,0,1,5,1,0,0,0,0,0,0,0,0,0, 0,0,0,0,1,0,0,0,0,0,0,0,0,0,0,0,0,1,3,33,2,0],
 [0,0,0,0,0,1,4,1,0,0,0,0,0,0,0,0,0, 0,0,0,0,1,0,0,0,0,0,0,0,0,0,0,0,0,0,0,0,0,0],
 [0,0,0,0,0,1,6,1,0,0,0,0,0,0,0,0,0, 0,0,0,0,1,0,0,0,0,0,0,0,0,0,0,0,0,0,1,10,6,1],
 [0,0,0,0,0,1,5,1,0,0,0,0,0,0,0,0,0, 0,0,0,0,1,0,0,0,0,0,0,0,0,0,0,0,0,0,0,3,1,0],
]

for name, grp in (("M850", M850), ("M500", M500), ("MRR", MRR)):
    for k, vals in enumerate(grp):
        if len(vals) != len(H_MEMBERS):
            print("length mismatch", name, k + 1, len(vals), file=sys.stderr)

rows = []
for k, mid in enumerate(MEMBER_IDS):
    for h, a, b, c in zip(H_MEMBERS, M850[k], M500[k], MRR[k]):
        rows.append({"member": mid, "h": h, "t850": a, "t500": b, "rr": c})
df = pd.DataFrame(rows)
pal = dict(zip(MEMBER_IDS, MEMBER_COLORS))

# ------------------------------------------------------------------ figure
W, H = 740, 700
plt.rcParams["font.family"] = ["DejaVu Sans Mono", "DejaVu Sans"]
fig = plt.figure(figsize=(W / 100, H / 100), dpi=100)
fig.patch.set_facecolor("white")


def fx(px):
    return px / W


def fy(py):
    return 1 - py / H


rect = [fx(50), 100 / H, 640 / W, 600 / H]
axp = fig.add_axes(rect)          # precipitation (mm) + grid, bottom layer
ax = axp.twinx()                  # temperatures (degC), top layer
axp.yaxis.tick_right()
ax.yaxis.tick_left()
ax.yaxis.set_label_position("left")
ax.patch.set_visible(False)

# grid
for mm in MM_TICKS:
    t = mm - MM_AT_ZERO_C
    if t == 0:
        axp.axhline(mm, color="#9a9a9a", lw=1.6, zorder=0)
    elif t % 10 == 0:
        axp.axhline(mm, color="#c0c0c0", lw=1.6, zorder=0)
    else:
        axp.axhline(mm, color="#c0c0c0", lw=0.8, zorder=0)
for h in DAY_HOURS:
    axp.axvline(h, color="#c0c0c0", lw=0.8, zorder=0)


def draw_members(axis, col):
    n0 = len(axis.lines)
    sns.lineplot(data=df, x="h", y=col, hue="member", palette=pal, hue_order=MEMBER_IDS,
                 estimator=None, legend=False, linewidth=0.72, marker="+", markersize=3.4,
                 ax=axis)
    for ln in axis.lines[n0:]:
        ln.set_markeredgecolor(ln.get_color())
        ln.set_markeredgewidth(0.72)
        ln.set_antialiased(False)
        ln.set_zorder(2)


# precipitation
draw_members(axp, "rr")
sns.lineplot(x=H6, y=RR_CTRL, color="black", linewidth=2.3, ax=axp, zorder=3)
sns.lineplot(x=H6, y=RR_MEAN, color="#ff0000", linewidth=3.0, ax=axp, zorder=4)

# temperatures
draw_members(ax, "t850")
draw_members(ax, "t500")
sns.lineplot(x=H6, y=T850_CTRL, color="black", linewidth=2.4, ax=ax, zorder=3)
sns.lineplot(x=H6, y=T500_CTRL, color="black", linewidth=2.4, ax=ax, zorder=3)
sns.lineplot(x=H6, y=T850_MEAN, color="#ff0000", linewidth=3.4, ax=ax, zorder=4)
sns.lineplot(x=H6, y=T500_MEAN, color="#ff0000", linewidth=3.4, ax=ax, zorder=4)

# axes
ax.set_xlim(0, 360)
axp.set_xlim(0, 360)
ax.set_ylim(*T_LIMITS)
axp.set_ylim(T_LIMITS[0] + MM_AT_ZERO_C, T_LIMITS[1] + MM_AT_ZERO_C)
for a in (ax, axp):
    a.set_xlabel("")
    a.set_ylabel("")

ax.set_yticks(T_TICKS)
ax.set_yticklabels([str(v) for v in T_TICKS], family="Liberation Sans", fontsize=7.6)
ax.tick_params(axis="y", length=0, pad=10.5)
axp.set_yticks(MM_TICKS)
axp.set_yticklabels([str(v) for v in MM_TICKS], family="Liberation Sans", fontsize=7.6)
axp.tick_params(axis="y", length=0, pad=14.5)
axp.set_xticks(DAY_HOURS)
axp.set_xticklabels(DAY_LABELS, rotation=90, ha="left", va="top", fontsize=6.8)
axp.tick_params(axis="x", length=0, pad=1.5)

for s in ax.spines.values():
    s.set_visible(False)
axp.spines["top"].set_visible(False)
for side in ("left", "right", "bottom"):
    axp.spines[side].set_color("black")
    axp.spines[side].set_linewidth(1.2)

# panel labels
ax.text(5.6, 9.6, "Temp. 850hPa", fontsize=7.2, va="center", ha="left", zorder=1)
ax.text(5.6, -15.9, "Temp. 500hPa", fontsize=7.2, va="center", ha="left", zorder=1)
ax.text(5.6, -30.7, "Précipitations", fontsize=7.2, va="center", ha="left", zorder=1)

# unit labels
fig.text(fx(20), fy(606), "(°C)", fontsize=7.2, va="center", ha="left")
fig.text(fx(708), fy(606), "(mm)", fontsize=7.2, va="center", ha="left")

# legend
fig.add_artist(Line2D([fx(35), fx(65)], [fy(639), fy(639)], color="#ff0000", lw=3.0))
fig.text(fx(74), fy(639), "Moyenne des scénarios", fontsize=7.2, va="center", ha="left")
fig.add_artist(Line2D([fx(225), fx(255)], [fy(639), fy(639)], color="black", lw=3.0))
fig.text(fx(264), fy(639), "Contrôle/Det", fontsize=7.2, va="center", ha="left")
fig.text(fx(264), fy(651), "CEP/ECMWF", fontsize=7.2, va="center", ha="left")
fig.text(fx(370), fy(651), "50 Perts.", fontsize=7.4, va="center", ha="left")

for i, (mid, col) in enumerate(zip(MEMBER_IDS, MEMBER_COLORS)):
    c = i % 25
    r = i // 25
    x0 = 430 + 11 * c
    y0 = 644 + 6 * r
    fig.add_artist(Rectangle((fx(x0), fy(y0 + 6)), 11 / W, 6 / H, facecolor=col,
                             edgecolor="none", transform=fig.transFigure))
    ty = 640 if r == 0 else 661.5
    fig.text(fx(x0 + 5.5), fy(ty), mid, fontsize=5.6, weight="bold", va="center",
             ha="center")

# title box
fig.add_artist(Rectangle((fx(20), fy(698)), 420 / W, 31 / H, facecolor="none",
                         edgecolor="black", lw=1.1, transform=fig.transFigure))
fig.text(fx(30), fy(677), "Diagramme ensembles ECMWF/CEP 0.25° sur 360h : 45.4N 11.9E",
         fontsize=8.3, weight="bold", va="center", ha="left")
fig.text(fx(30), fy(692), "Températures 850hPa et 500hPa (°C) , précipitations (mm)",
         fontsize=7.1, va="center", ha="left")
fig.text(fx(449), fy(676), "Ensemble ECMWF/CEP du 20/11/2024 - 12Z",
         fontsize=7.2, va="center", ha="left")
fig.text(fx(449), fy(692), "Copyright 2024 Meteociel.fr - ECMWF",
         fontsize=8.3, weight="bold", va="center", ha="left")

fig.savefig("out.png", dpi=100)
